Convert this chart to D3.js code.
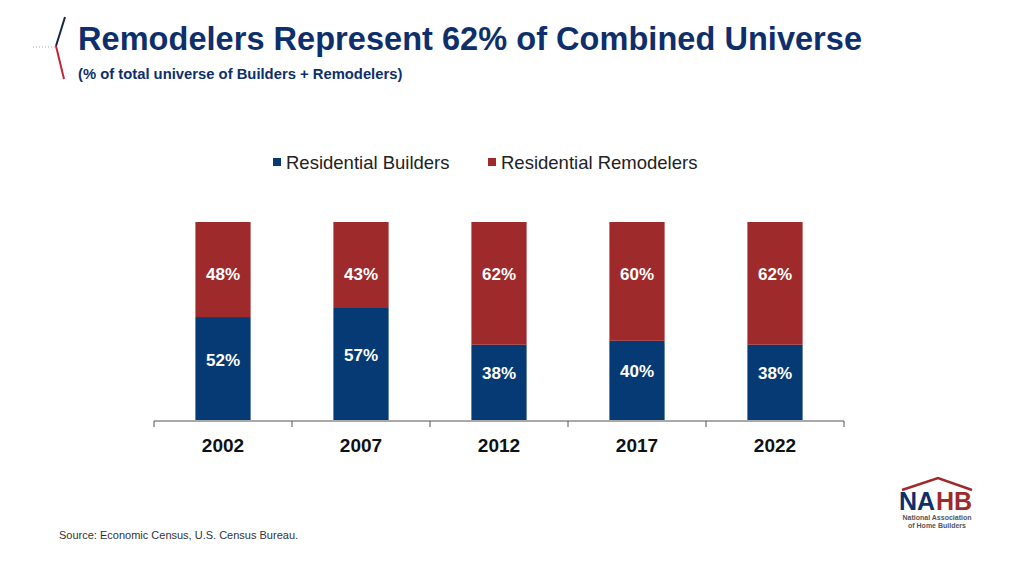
<!DOCTYPE html><html><head><meta charset="utf-8"><script src="https://cdn.jsdelivr.net/npm/d3@7"></script>
<style>body{margin:0;background:#fff}text{font-family:Arial,"Liberation Sans",sans-serif}</style></head><body><svg id="c" width="1024" height="584"></svg>
<script>
const years=["2002","2007","2012","2017","2022"];
const builders=[52,57,38,40,38];
const remodelers=[48,43,62,60,62];
const seriesNames=["Residential Builders","Residential Remodelers"];
const colors=["#063A74","#9E2A2B"];
const svg=d3.select("#c");
const x=d3.scaleBand().domain(years).range([154,844]).paddingInner(0.6).paddingOuter(0.3);
const y=d3.scaleLinear().domain([0,100]).range([420,222]);
svg.append("line").attr("x1",33).attr("x2",55).attr("y1",47).attr("y2",47).attr("stroke","#aaa").attr("stroke-dasharray","1,2");
svg.append("line").attr("x1",65).attr("y1",17).attr("x2",56).attr("y2",46).attr("stroke","#1a2540").attr("stroke-width",2);
svg.append("line").attr("x1",56).attr("y1",46).attr("x2",64).attr("y2",79).attr("stroke","#C0273A").attr("stroke-width",2);
svg.append("text").attr("x",78).attr("y",50).attr("fill","#0E2F6B").attr("font-size",32.5).attr("font-weight","bold").attr("textLength",784).text("Remodelers Represent 62% of Combined Universe");
svg.append("text").attr("x",78).attr("y",79).attr("fill","#0E2F6B").attr("font-size",14.8).attr("font-weight","bold").text("(% of total universe of Builders + Remodelers)");
const lg=[[273,seriesNames[0]],[488,seriesNames[1]]];
lg.forEach((d,i)=>{svg.append("rect").attr("x",d[0]).attr("y",158).attr("width",8).attr("height",8).attr("fill",colors[i]);
svg.append("text").attr("x",d[0]+13).attr("y",169).attr("font-size",18.5).attr("fill","#222").text(d[1]);});
const stack=years.map((yr,i)=>({yr,b:builders[i],r:remodelers[i]}));
const g=svg.append("g");
stack.forEach(d=>{
 const cx=x(d.yr)+x.bandwidth()/2;
 g.append("rect").attr("x",x(d.yr)).attr("width",x.bandwidth()).attr("y",y(d.b)).attr("height",y(0)-y(d.b)).attr("fill",colors[0]);
 g.append("rect").attr("x",x(d.yr)).attr("width",x.bandwidth()).attr("y",y(d.b+d.r)).attr("height",y(d.b)-y(d.b+d.r)).attr("fill",colors[1]);
 const bc=Math.min(y(d.b)+50,(y(d.b)+y(0))/2-9);
 g.append("text").attr("x",cx).attr("y",bc+6).attr("text-anchor","middle").attr("fill","#fff").attr("font-size",17).attr("font-weight","bold").text(d.b+"%");
 g.append("text").attr("x",cx).attr("y",y(100)+58).attr("text-anchor","middle").attr("fill","#fff").attr("font-size",17).attr("font-weight","bold").text(d.r+"%");
});
svg.append("line").attr("x1",154).attr("x2",844).attr("y1",421).attr("y2",421).attr("stroke","#555");
[0,1,2,3,4,5].forEach(i=>svg.append("line").attr("x1",154+i*x.step()).attr("x2",154+i*x.step()).attr("y1",421).attr("y2",427).attr("stroke","#555"));
years.forEach(yr=>svg.append("text").attr("x",x(yr)+x.bandwidth()/2).attr("y",452).attr("text-anchor","middle").attr("font-size",19).attr("font-weight","bold").attr("fill","#111").text(yr));
svg.append("text").attr("x",59).attr("y",539).attr("font-size",11).attr("fill","#333").text("Source:  Economic Census, U.S. Census Bureau.");
svg.append("path").attr("d","M902,490 L938,478 L972,490").attr("fill","none").attr("stroke","#9E2A2B").attr("stroke-width",2.5);
svg.append("text").attr("x",899).attr("y",510).attr("font-size",25).attr("font-weight","bold").attr("fill","#0E2F6B").text("NA");
svg.append("text").attr("x",936).attr("y",510).attr("font-size",25).attr("font-weight","bold").attr("fill","#9E2A2B").text("HB");
svg.append("text").attr("x",937).attr("y",520).attr("text-anchor","middle").attr("font-size",7).attr("font-weight","bold").attr("fill","#555").text("National Association");
svg.append("text").attr("x",937).attr("y",528).attr("text-anchor","middle").attr("font-size",7).attr("font-weight","bold").attr("fill","#555").text("of Home Builders");
</script></body></html>
